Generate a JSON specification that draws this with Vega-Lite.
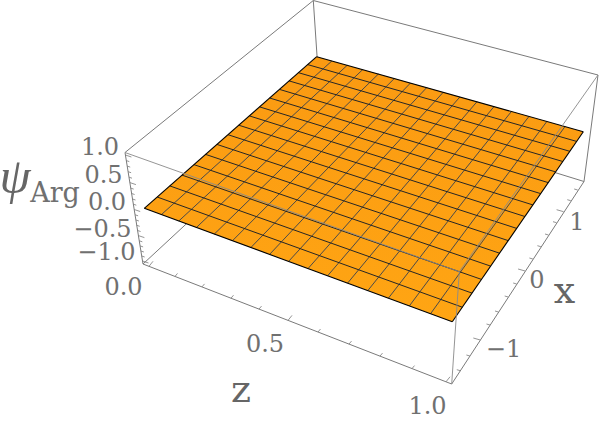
{"$schema":"https://vega.github.io/schema/vega-lite/v6.json","width":600,"height":426,"padding":0,"autosize":{"type":"none"},"background":"white","config":{"view":{"stroke":null}},
"datasets":{
"boxBack":[{"x0":125,"y0":152.5,"x1":313.3,"y1":0.5},{"x0":313.3,"y0":0.5,"x1":598,"y1":75},{"x0":313.3,"y0":0.5,"x1":320,"y1":100},{"x0":143,"y0":264,"x1":320,"y1":100},{"x0":584,"y0":181.5,"x1":320,"y1":100},{"x0":125,"y0":152.5,"x1":143,"y1":264},{"x0":598,"y0":75,"x1":584,"y1":181.5},{"x0":143,"y0":264,"x1":451.7,"y1":384},{"x0":451.7,"y0":384,"x1":584,"y1":181.5}],
"boxFront":[{"x0":125,"y0":152.5,"x1":459.3,"y1":271.7},{"x0":459.3,"y0":271.7,"x1":598,"y1":75},{"x0":459.3,"y0":271.7,"x1":451.7,"y1":384}],
"ticks":[{"x0":149,"y0":266.3,"x1":153,"y1":261.3},{"x0":175,"y0":276.4,"x1":177.5,"y1":273.4},{"x0":202,"y0":286.9,"x1":204.5,"y1":283.9},{"x0":231,"y0":298.2,"x1":233.5,"y1":295.2},{"x0":259,"y0":309.1,"x1":261.5,"y1":306.1},{"x0":288,"y0":320.4,"x1":292,"y1":315.4},{"x0":318,"y0":332,"x1":320.5,"y1":329},{"x0":349,"y0":344.1,"x1":351.5,"y1":341.1},{"x0":380,"y0":356.1,"x1":382.5,"y1":353.1},{"x0":412,"y0":368.6,"x1":414.5,"y1":365.6},{"x0":446,"y0":381.8,"x1":450,"y1":376.8},
{"x0":460.3,"y0":370.7,"x1":456.8,"y1":369.7},{"x0":469.9,"y0":356,"x1":466.4,"y1":355},{"x0":480.3,"y0":340,"x1":473.3,"y1":338},{"x0":490,"y0":325,"x1":486.5,"y1":324},{"x0":498.5,"y0":312,"x1":495,"y1":311},{"x0":508.2,"y0":297,"x1":504.7,"y1":296},{"x0":516.7,"y0":284,"x1":513.2,"y1":283},{"x0":525.1,"y0":271,"x1":518.1,"y1":269},{"x0":532.9,"y0":259,"x1":529.4,"y1":258},{"x0":540.9,"y0":246.7,"x1":537.4,"y1":245.7},{"x0":548.5,"y0":235,"x1":545,"y1":234},{"x0":556.5,"y0":222.7,"x1":553,"y1":221.7},{"x0":563.6,"y0":211.7,"x1":556.6,"y1":209.7},{"x0":570.8,"y0":200.7,"x1":567.3,"y1":199.7},{"x0":577.7,"y0":190,"x1":574.2,"y1":189},
{"x0":125.4,"y0":155,"x1":131.4,"y1":157},{"x0":126.3,"y0":160.6,"x1":129.3,"y1":161.6},{"x0":127.2,"y0":166.1,"x1":130.2,"y1":167.1},{"x0":128.1,"y0":171.7,"x1":131.1,"y1":172.7},{"x0":129,"y0":177.2,"x1":132,"y1":178.2},{"x0":129.9,"y0":182.6,"x1":135.9,"y1":184.6},{"x0":130.7,"y0":188.1,"x1":133.7,"y1":189.1},{"x0":131.6,"y0":193.5,"x1":134.6,"y1":194.5},{"x0":132.5,"y0":199,"x1":135.5,"y1":200},{"x0":133.3,"y0":204.2,"x1":136.3,"y1":205.2},{"x0":134.2,"y0":209.5,"x1":140.2,"y1":211.5},{"x0":135.1,"y0":214.8,"x1":138.1,"y1":215.8},{"x0":135.9,"y0":220,"x1":138.9,"y1":221},{"x0":136.7,"y0":225.3,"x1":139.7,"y1":226.3},{"x0":137.6,"y0":230.5,"x1":140.6,"y1":231.5},{"x0":138.4,"y0":235.6,"x1":144.4,"y1":237.6},{"x0":139.3,"y0":240.8,"x1":142.3,"y1":241.8},{"x0":140.1,"y0":245.9,"x1":143.1,"y1":246.9},{"x0":140.9,"y0":251,"x1":143.9,"y1":252},{"x0":141.7,"y0":256,"x1":144.7,"y1":257},{"x0":142.5,"y0":261,"x1":148.5,"y1":263}],
"sheet":[{"u":144.3,"top":208.3,"bottom":208.3},{"u":316.7,"top":56.7,"bottom":271.8},{"u":452.3,"top":94.85,"bottom":321.7},{"u":583.3,"top":131.7,"bottom":131.7}],
"meshZ":[{"x0":161.4,"y0":214.6,"x1":331.8,"y1":61},{"x0":178.8,"y0":221,"x1":347.2,"y1":65.3},{"x0":196.4,"y0":227.5,"x1":362.7,"y1":69.6},{"x0":214.3,"y0":234.1,"x1":378.4,"y1":74},{"x0":232.4,"y0":240.8,"x1":394.3,"y1":78.5},{"x0":250.9,"y0":247.5,"x1":410.4,"y1":83.1},{"x0":269.6,"y0":254.4,"x1":426.7,"y1":87.6},{"x0":288.6,"y0":261.4,"x1":443.2,"y1":92.3},{"x0":308,"y0":268.6,"x1":459.9,"y1":97},{"x0":327.6,"y0":275.8,"x1":476.9,"y1":101.8},{"x0":347.6,"y0":283.1,"x1":494,"y1":106.6},{"x0":367.8,"y0":290.6,"x1":511.4,"y1":111.5},{"x0":388.4,"y0":298.2,"x1":529,"y1":116.4},{"x0":409.4,"y0":305.9,"x1":546.9,"y1":121.4},{"x0":430.6,"y0":313.7,"x1":565,"y1":126.5}],
"meshX":[{"x0":157.2,"y0":197,"x1":462.3,"y1":307.2},{"x0":169.8,"y0":185.9,"x1":472,"y1":293.1},{"x0":182,"y0":175.1,"x1":481.5,"y1":279.4},{"x0":193.9,"y0":164.6,"x1":490.6,"y1":266.1},{"x0":205.6,"y0":154.4,"x1":499.6,"y1":253.2},{"x0":216.9,"y0":144.4,"x1":508.2,"y1":240.6},{"x0":228,"y0":134.7,"x1":516.7,"y1":228.4},{"x0":238.8,"y0":125.2,"x1":524.9,"y1":216.5},{"x0":249.4,"y0":115.9,"x1":532.8,"y1":204.9},{"x0":259.7,"y0":106.9,"x1":540.6,"y1":193.6},{"x0":269.7,"y0":98,"x1":548.2,"y1":182.6},{"x0":279.5,"y0":89.4,"x1":555.6,"y1":171.9},{"x0":289.1,"y0":80.9,"x1":562.8,"y1":161.5},{"x0":298.5,"y0":72.7,"x1":569.8,"y1":151.3},{"x0":307.7,"y0":64.6,"x1":576.6,"y1":141.4}],
"edges":[{"x0":144.3,"y0":208.3,"x1":452.3,"y1":321.7},{"x0":452.3,"y0":321.7,"x1":583.3,"y1":131.7},{"x0":583.3,"y0":131.7,"x1":316.7,"y1":56.7},{"x0":316.7,"y0":56.7,"x1":144.3,"y1":208.3}],
"tickLabels":[{"label":"1.0","u":100,"v":155},{"label":"0.5","u":103.5,"v":183.3},{"label":"0.0","u":107,"v":210},{"label":"−0.5","u":102.5,"v":236.7},{"label":"−1.0","u":106.5,"v":260},{"label":"0.0","u":123.5,"v":295},{"label":"0.5","u":265,"v":352},{"label":"1.0","u":427.5,"v":414},{"label":"−1","u":503.5,"v":357},{"label":"0","u":537,"v":288},{"label":"1","u":577,"v":230}],
"axisTitles":[{"label":"z","u":241,"v":401.7},{"label":"x","u":564.5,"v":303}],
"psi":[{"label":"ψ","u":15,"v":193}],
"arg":[{"label":"Arg","u":55,"v":202}]
},
"encoding":{},
"layer":[
{"data":{"name":"boxBack"},"mark":{"type":"rule","color":"#7a7a7a","strokeWidth":1},"encoding":{"x":{"field":"x0","type":"quantitative","scale":{"domain":[0,600],"nice":false,"zero":false},"axis":null},"y":{"field":"y0","type":"quantitative","scale":{"domain":[426,0],"nice":false,"zero":false},"axis":null},"x2":{"field":"x1"},"y2":{"field":"y1"}}},
{"data":{"name":"ticks"},"mark":{"type":"rule","color":"#7a7a7a","strokeWidth":0.8},"encoding":{"x":{"field":"x0","type":"quantitative","scale":{"domain":[0,600],"nice":false,"zero":false},"axis":null},"y":{"field":"y0","type":"quantitative","scale":{"domain":[426,0],"nice":false,"zero":false},"axis":null},"x2":{"field":"x1"},"y2":{"field":"y1"}}},
{"data":{"name":"sheet"},"mark":{"type":"area","fill":{"gradient":"linear","x1":0,"y1":0,"x2":0,"y2":1,"stops":[{"offset":0,"color":"#FA9A12"},{"offset":1,"color":"#FFA513"}]},"stroke":null},"encoding":{"x":{"field":"u","type":"quantitative","scale":{"domain":[0,600],"nice":false,"zero":false},"axis":null},"y":{"field":"top","type":"quantitative","stack":null,"scale":{"domain":[426,0],"nice":false,"zero":false},"axis":null},"y2":{"field":"bottom"}}},
{"data":{"name":"meshZ"},"mark":{"type":"rule","color":"#4a4a4a","strokeWidth":1},"encoding":{"x":{"field":"x0","type":"quantitative","scale":{"domain":[0,600],"nice":false,"zero":false},"axis":null},"y":{"field":"y0","type":"quantitative","scale":{"domain":[426,0],"nice":false,"zero":false},"axis":null},"x2":{"field":"x1"},"y2":{"field":"y1"}}},
{"data":{"name":"meshX"},"mark":{"type":"rule","color":"#262626","strokeWidth":1},"encoding":{"x":{"field":"x0","type":"quantitative","scale":{"domain":[0,600],"nice":false,"zero":false},"axis":null},"y":{"field":"y0","type":"quantitative","scale":{"domain":[426,0],"nice":false,"zero":false},"axis":null},"x2":{"field":"x1"},"y2":{"field":"y1"}}},
{"data":{"name":"edges"},"mark":{"type":"rule","color":"#000000","strokeWidth":1.1},"encoding":{"x":{"field":"x0","type":"quantitative","scale":{"domain":[0,600],"nice":false,"zero":false},"axis":null},"y":{"field":"y0","type":"quantitative","scale":{"domain":[426,0],"nice":false,"zero":false},"axis":null},"x2":{"field":"x1"},"y2":{"field":"y1"}}},
{"data":{"name":"boxFront"},"mark":{"type":"rule","color":"#8a8a8a","strokeWidth":1,"opacity":0.9},"encoding":{"x":{"field":"x0","type":"quantitative","scale":{"domain":[0,600],"nice":false,"zero":false},"axis":null},"y":{"field":"y0","type":"quantitative","scale":{"domain":[426,0],"nice":false,"zero":false},"axis":null},"x2":{"field":"x1"},"y2":{"field":"y1"}}},
{"data":{"name":"tickLabels"},"mark":{"type":"text","font":"DejaVu Serif","fontSize":24,"color":"#707070","align":"center","baseline":"alphabetic"},"encoding":{"x":{"field":"u","type":"quantitative","scale":{"domain":[0,600],"nice":false,"zero":false},"axis":null},"y":{"field":"v","type":"quantitative","scale":{"domain":[426,0],"nice":false,"zero":false},"axis":null},"text":{"field":"label"}}},
{"data":{"name":"axisTitles"},"mark":{"type":"text","font":"DejaVu Serif","fontSize":38,"color":"#666666","align":"center","baseline":"alphabetic"},"encoding":{"x":{"field":"u","type":"quantitative","scale":{"domain":[0,600],"nice":false,"zero":false},"axis":null},"y":{"field":"v","type":"quantitative","scale":{"domain":[426,0],"nice":false,"zero":false},"axis":null},"text":{"field":"label"}}},
{"data":{"name":"psi"},"mark":{"type":"text","font":"Liberation Serif","fontStyle":"italic","fontSize":50,"color":"#666666","align":"center","baseline":"alphabetic"},"encoding":{"x":{"field":"u","type":"quantitative","scale":{"domain":[0,600],"nice":false,"zero":false},"axis":null},"y":{"field":"v","type":"quantitative","scale":{"domain":[426,0],"nice":false,"zero":false},"axis":null},"text":{"field":"label"}}},
{"data":{"name":"arg"},"mark":{"type":"text","font":"DejaVu Serif","fontSize":27,"color":"#707070","align":"center","baseline":"alphabetic"},"encoding":{"x":{"field":"u","type":"quantitative","scale":{"domain":[0,600],"nice":false,"zero":false},"axis":null},"y":{"field":"v","type":"quantitative","scale":{"domain":[426,0],"nice":false,"zero":false},"axis":null},"text":{"field":"label"}}}
]}
